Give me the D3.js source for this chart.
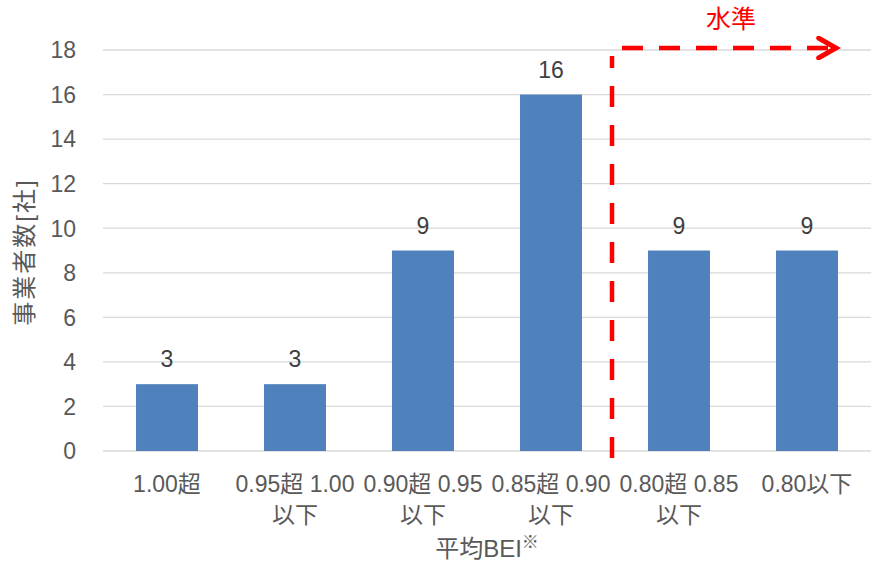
<!DOCTYPE html>
<html>
  <head>
    <meta charset="utf-8">
    <style>
      body { margin: 0; background: #fff; }
      text { font-family: "Liberation Sans", Arial, "Noto Sans CJK JP", sans-serif; }
    </style>
  </head>
  <body>
    <script src="https://d3js.org/d3.v7.min.js"></script>
    <script>
      const categories = [
        ["1.00超"],
        ["0.95超 1.00", "以下"],
        ["0.90超 0.95", "以下"],
        ["0.85超 0.90", "以下"],
        ["0.80超 0.85", "以下"],
        ["0.80以下"]
      ];
      const counts = [3, 3, 9, 16, 9, 9];
      const yTicks = [0, 2, 4, 6, 8, 10, 12, 14, 16, 18];
      const thresholdAfter = 3; // line sits between 4th and 5th category

      const width = 874, height = 570;
      const margin = { left: 103, right: 3, top: 50, bottom: 119 };
      const fs = 23;

      const svg = d3.select("body").append("svg")
        .attr("width", width)
        .attr("height", height);

      const keys = categories.map((d, i) => i);
      const x = d3.scaleBand()
        .domain(keys)
        .range([margin.left, width - margin.right])
        .paddingInner(0.516)
        .paddingOuter(0.258);
      const y = d3.scaleLinear()
        .domain([0, 18])
        .range([height - margin.bottom, margin.top]);

      // gridlines
      svg.append("g")
        .selectAll("line")
        .data(yTicks)
        .enter()
        .append("line")
        .attr("x1", margin.left)
        .attr("x2", width - margin.right)
        .attr("y1", (d) => y(d))
        .attr("y2", (d) => y(d))
        .attr("stroke", "#d9d9d9")
        .attr("stroke-width", 1.3);

      // y tick labels
      svg.append("g")
        .selectAll("text")
        .data(yTicks)
        .enter()
        .append("text")
        .attr("x", 76)
        .attr("y", (d) => y(d))
        .attr("dy", "0.36em")
        .attr("text-anchor", "end")
        .attr("font-size", fs)
        .attr("fill", "#595959")
        .text((d) => d);

      // bars
      svg.append("g")
        .selectAll("rect")
        .data(counts)
        .enter()
        .append("rect")
        .attr("x", (d, i) => x(i))
        .attr("y", (d) => y(d))
        .attr("width", x.bandwidth())
        .attr("height", (d) => y(0) - y(d))
        .attr("fill", "#4f81bd");

      // value labels
      svg.append("g")
        .selectAll("text")
        .data(counts)
        .enter()
        .append("text")
        .attr("x", (d, i) => x(i) + x.bandwidth() / 2)
        .attr("y", (d) => y(d) - 17)
        .attr("text-anchor", "middle")
        .attr("font-size", fs)
        .attr("fill", "#404040")
        .text((d) => d);

      // category labels
      const cat = svg.append("g")
        .selectAll("text")
        .data(categories)
        .enter()
        .append("text")
        .attr("text-anchor", "middle")
        .attr("font-size", fs)
        .attr("fill", "#595959");
      cat.selectAll("tspan")
        .data((d, i) => d.map((s) => ({ s: s, i: i })))
        .enter()
        .append("tspan")
        .attr("x", (d) => x(d.i) + x.bandwidth() / 2)
        .attr("y", (d, j) => 492 + j * 31)
        .text((d) => d.s);

      // axis titles
      svg.append("text")
        .attr("transform", "translate(33,252) rotate(-90)")
        .attr("text-anchor", "middle")
        .attr("font-size", 24)
        .attr("letter-spacing", 2)
        .attr("fill", "#595959")
        .text("事業者数[社]");

      const xt = svg.append("text")
        .attr("x", 487)
        .attr("y", 557)
        .attr("text-anchor", "middle")
        .attr("font-size", 24)
        .attr("fill", "#595959");
      xt.append("tspan").text("平均BEI");
      xt.append("tspan")
        .attr("font-size", 17)
        .attr("dy", -9)
        .text("※");

      // threshold marker
      const lineX = x(thresholdAfter) + x.bandwidth() + x.step() * x.paddingInner() / 2 - 3;
      const topY = y(18) - 2;
      svg.append("defs").append("marker")
        .attr("id", "arrow")
        .attr("viewBox", "0 0 10 10")
        .attr("refX", 8)
        .attr("refY", 5)
        .attr("markerWidth", 5.5)
        .attr("markerHeight", 5.5)
        .attr("orient", "auto")
        .append("path")
        .attr("d", "M1,1 L8,5 L1,9")
        .attr("fill", "none")
        .attr("stroke", "#ff0000")
        .attr("stroke-width", 2)
        .attr("stroke-linecap", "round");

      svg.append("line")
        .attr("x1", lineX)
        .attr("x2", lineX)
        .attr("y1", y(0) + 7)
        .attr("y2", topY + 8)
        .attr("stroke", "#ff0000")
        .attr("stroke-width", 4.5)
        .attr("stroke-dasharray", "21,18");

      svg.append("line")
        .attr("x1", lineX + 10)
        .attr("x2", 836)
        .attr("y1", topY)
        .attr("y2", topY)
        .attr("stroke", "#ff0000")
        .attr("stroke-width", 4.5)
        .attr("stroke-dasharray", "21,16")
        .attr("marker-end", "url(#arrow)");

      svg.append("text")
        .attr("x", 731)
        .attr("y", 28)
        .attr("text-anchor", "middle")
        .attr("font-size", 25)
        .attr("fill", "#ff0000")
        .text("水準");
    </script>
  </body>
</html>
